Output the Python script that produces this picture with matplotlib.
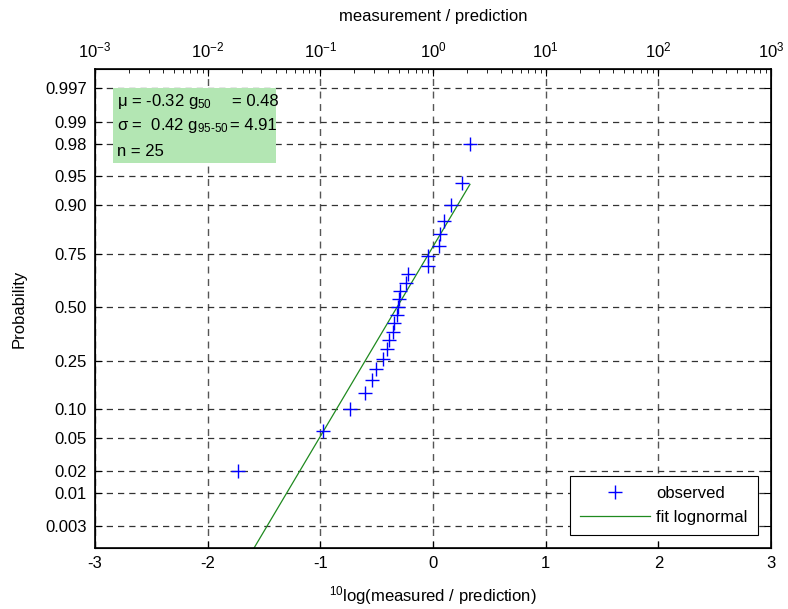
import numpy as np
import matplotlib
matplotlib.use("Agg")
import matplotlib.pyplot as plt
from matplotlib.patches import Rectangle
from statistics import NormalDist

plt.rcParams['font.family'] = ['Liberation Sans', 'DejaVu Sans']
plt.rcParams['font.size'] = 12
plt.rcParams['mathtext.fontset'] = 'custom'
plt.rcParams['mathtext.rm'] = 'Liberation Sans'
plt.rcParams['mathtext.it'] = 'Liberation Sans'
plt.rcParams['axes.unicode_minus'] = False

# observed log10(measured / prediction), sorted
log_ratio = [-1.730, -0.979, -0.736, -0.603, -0.539, -0.506, -0.441, -0.405,
             -0.388, -0.352, -0.342, -0.319, -0.311, -0.302, -0.293, -0.242,
             -0.219, -0.042, -0.040, 0.051, 0.062, 0.100, 0.160, 0.260, 0.328]

# fitted lognormal parameters (as shown in the box)
mu = -0.32
sigma = 0.42
g50 = 0.48
g95_50 = 4.91

prob_ticks = [0.003, 0.01, 0.02, 0.05, 0.10, 0.25, 0.50, 0.75, 0.90, 0.95,
              0.98, 0.99, 0.997]
prob_labels = ['0.003', '0.01', '0.02', '0.05', '0.10', '0.25', '0.50',
               '0.75', '0.90', '0.95', '0.98', '0.99', '0.997']
top_labels = ['$10^{-3}$', '$10^{-2}$', '$10^{-1}$', '$10^{0}$', '$10^{1}$',
              '$10^{2}$', '$10^{3}$']

nd = NormalDist()
n = len(log_ratio)
x = np.array(log_ratio)
plot_pos = [(i - 0.5) / n for i in range(1, n + 1)]
z = np.array([nd.inv_cdf(p) for p in plot_pos])

fig = plt.figure(figsize=(7.88, 6.09), dpi=100)
ax = fig.add_axes([0.1206, 0.1002, 0.8578, 0.7865])

ylo, yhi = -3.02, 2.99

# grid
for t in range(-3, 4):
    ax.axvline(t, color='#555555', ls=(0, (5, 4)), lw=1.0, zorder=0)
for p in prob_ticks:
    ax.axhline(nd.inv_cdf(p), color='#333333', ls=(0, (5, 4)), lw=0.9, zorder=0)

# fitted line: from bottom of axis up to largest observation
xl = np.array([mu + sigma * ylo, x.max()])
ax.plot(xl, (xl - mu) / sigma, color='#1f8a1f', lw=0.9, label='fit lognormal', zorder=2)
ax.plot(x, z, '+', color='#0000ff', ms=10, mew=1.0, label='observed', zorder=3)

ax.set_xlim(-3, 3)
ax.set_ylim(ylo, yhi)
ax.set_xticks(range(-3, 4))
ax.set_yticks([nd.inv_cdf(p) for p in prob_ticks])
ax.set_yticklabels(prob_labels)
ax.tick_params(direction='in', right=True, length=5, width=0.8, pad=6)
for s in ax.spines.values():
    s.set_linewidth(1.2)

ax.set_xlabel('$^{10}$log(measured / prediction)', labelpad=9)
ax.set_ylabel('Probability', labelpad=13)

# top axis in ratio units
ax2 = ax.twiny()
ax2.set_xscale('log')
ax2.set_xlim(1e-3, 1e3)
ax2.set_xticks([1e-3, 1e-2, 1e-1, 1e0, 1e1, 1e2, 1e3])
ax2.set_xticklabels(top_labels)
ax2.tick_params(which='both', direction='in', pad=6)
ax2.tick_params(which='major', length=5)
ax2.tick_params(which='minor', length=3)
ax2.set_xlabel('measurement / prediction', labelpad=14)

# info box
ax.add_patch(Rectangle((0.0266, 0.804), 0.2415, 0.156, transform=ax.transAxes,
                       facecolor='#b3e6b3', edgecolor='none', zorder=4))
ax.text(0.0325, 0.933, '\u03bc = %.2f g$_{50}$' % mu, transform=ax.transAxes,
        va='center', zorder=5)
ax.text(0.203, 0.933, '= %.2f' % g50, transform=ax.transAxes, va='center', zorder=5)
ax.text(0.0325, 0.883, '\u03c3 =  %.2f g$_{95\\text{-}50}$' % sigma, transform=ax.transAxes,
        va='center', zorder=5)
ax.text(0.2, 0.883, '= %.2f' % g95_50, transform=ax.transAxes, va='center', zorder=5)
ax.text(0.0325, 0.827, 'n = %d' % n, transform=ax.transAxes, va='center', zorder=5)

h, l = ax.get_legend_handles_labels()
leg = ax.legend(h[::-1], l[::-1], loc='lower right', bbox_to_anchor=(0.988, 0.017),
                fancybox=False, framealpha=1, edgecolor='black', handlelength=4.2,
                handletextpad=0.4, borderpad=0.6, labelspacing=0.55, borderaxespad=0.3)
leg.get_frame().set_linewidth(0.8)

fig.savefig('out.png', dpi=100)
